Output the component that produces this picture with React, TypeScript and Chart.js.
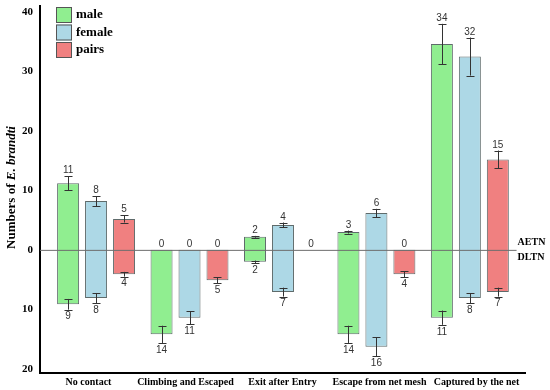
import React, { useEffect, useRef } from "react";
import { Chart, registerables } from "chart.js";
Chart.register(...registerables);

const categories = ["No contact", "Climbing and Escaped", "Exit after Entry", "Escape from net mesh", "Captured by the net"];
const seriesNames = ["male", "female", "pairs"];
const seriesColors = ["#90EE90", "#ADD8E6", "#F08080"];

// bar heights above the line (AETN) and below it (DLTN)
const maleAETN = [11.2, 0, 2.2, 3.0, 34.6];
const femaleAETN = [8.2, 0, 4.2, 6.2, 32.5];
const pairsAETN = [5.2, 0, 0, 0, 15.2];
const maleDLTN = [9.15, 14.2, 2.0, 14.2, 11.4];
const femaleDLTN = [8.1, 11.4, 7.1, 16.3, 8.1];
const pairsDLTN = [4.1, 5.1, 0, 4.1, 7.1];

// error bar half-lengths
const maleAETNErr = [1.2, 0, 0.15, 0.25, 3.4];
const femaleAETNErr = [0.85, 0, 0.4, 0.7, 3.2];
const pairsAETNErr = [0.6, 0, 0, 0, 1.5];
const maleDLTNErr = [0.9, 1.45, 0.2, 1.45, 1.2];
const femaleDLTNErr = [0.85, 1.1, 0.75, 1.6, 0.85];
const pairsDLTNErr = [0.4, 0.5, 0, 0.5, 0.75];

// printed count labels
const maleAETNLabels = [11, 0, 2, 3, 34];
const femaleAETNLabels = [8, 0, 4, 6, 32];
const pairsAETNLabels = [5, 0, 0, 0, 15];
const maleDLTNLabels = [9, 14, 2, 14, 11];
const femaleDLTNLabels = [8, 11, 7, 16, 8];
const pairsDLTNLabels: (number | null)[] = [4, 5, null, 4, 7];

const yTickValues = [-20, -10, 0, 10, 20, 30, 40];
const yMin = -20.7;
const yMax = 41;
const xMin = -0.6;
const xMax = 4.59;

const upVals = [maleAETN, femaleAETN, pairsAETN];
const downVals = [maleDLTN, femaleDLTN, pairsDLTN];
const upErrs = [maleAETNErr, femaleAETNErr, pairsAETNErr];
const downErrs = [maleDLTNErr, femaleDLTNErr, pairsDLTNErr];
const upLabels = [maleAETNLabels, femaleAETNLabels, pairsAETNLabels];
const downLabels: (number | null)[][] = [maleDLTNLabels, femaleDLTNLabels, pairsDLTNLabels];

const SERIF = "'Liberation Serif', 'Times New Roman', serif";
const SANS = "'Liberation Sans', Arial, sans-serif";

const overlayPlugin = {
  id: "overlay",
  afterDatasetsDraw(chart: any) {
    const ctx = chart.ctx;
    const ys = chart.scales.y;
    const xs = chart.scales.x;
    const area = chart.chartArea;
    const zeroY = ys.getPixelForValue(0);
    const lineEnd = xs.getPixelForValue(categories.length - 0.5);
    ctx.save();
    // zero line
    ctx.strokeStyle = "#6e6e6e";
    ctx.lineWidth = 1;
    ctx.beginPath();
    ctx.moveTo(area.left, zeroY + 0.5);
    ctx.lineTo(lineEnd, zeroY + 0.5);
    ctx.stroke();
    // error bars and labels
    ctx.strokeStyle = "#333";
    ctx.fillStyle = "#333";
    ctx.font = `10px ${SANS}`;
    ctx.textAlign = "center";
    const cap = 4;
    const drawErr = (x: number, y1: number, y2: number) => {
      const xx = Math.round(x) + 0.5;
      ctx.beginPath();
      ctx.moveTo(xx, y1);
      ctx.lineTo(xx, y2);
      ctx.moveTo(xx - cap, Math.round(y1) + 0.5);
      ctx.lineTo(xx + cap, Math.round(y1) + 0.5);
      ctx.moveTo(xx - cap, Math.round(y2) + 0.5);
      ctx.lineTo(xx + cap, Math.round(y2) + 0.5);
      ctx.stroke();
    };
    for (let s = 0; s < seriesNames.length; s++) {
      const meta = chart.getDatasetMeta(s);
      meta.data.forEach((el: any, j: number) => {
        const x = el.x;
        const u = upVals[s][j];
        const eu = upErrs[s][j];
        const d = downVals[s][j];
        const ed = downErrs[s][j];
        if (u > 0 && eu > 0) drawErr(x, ys.getPixelForValue(u + eu), ys.getPixelForValue(u - eu));
        if (d > 0 && ed > 0) drawErr(x, ys.getPixelForValue(-d - ed), ys.getPixelForValue(-d + ed));
        const ul = upLabels[s][j];
        if (ul !== null && ul !== undefined) {
          ctx.textBaseline = "alphabetic";
          ctx.fillText(String(ul), x, ys.getPixelForValue(u + eu) - 3);
        }
        const dl = downLabels[s][j];
        if (dl !== null && dl !== undefined) {
          ctx.textBaseline = "top";
          ctx.fillText(String(dl), x, ys.getPixelForValue(-d - ed) + 2);
        }
      });
    }
    // AETN / DLTN
    ctx.fillStyle = "#000";
    ctx.font = `bold 10px ${SERIF}`;
    ctx.textAlign = "left";
    ctx.textBaseline = "middle";
    ctx.fillText("AETN", lineEnd + 1, zeroY - 7);
    ctx.fillText("DLTN", lineEnd + 1, zeroY + 8);
    ctx.restore();
  },
  afterDraw(chart: any) {
    const ctx = chart.ctx;
    const area = chart.chartArea;
    ctx.save();
    // legend
    const lx = area.left + 16;
    const ly = area.top + 1;
    ctx.font = `bold 13px ${SERIF}`;
    ctx.textBaseline = "middle";
    ctx.textAlign = "left";
    seriesNames.forEach((name, i) => {
      const y = ly + i * 17.5;
      ctx.fillStyle = seriesColors[i];
      ctx.fillRect(lx, y, 16, 16);
      ctx.strokeStyle = "#555";
      ctx.lineWidth = 1;
      ctx.strokeRect(lx + 0.5, y + 0.5, 15, 15);
      ctx.fillStyle = "#000";
      ctx.fillText(name, lx + 20, y + 8);
    });
    // y-axis title
    const t1 = "Numbers of ";
    const t2 = "E. brandti";
    const f1 = `bold 13px ${SERIF}`;
    const f2 = `italic bold 13px ${SERIF}`;
    ctx.font = f1;
    const w1 = ctx.measureText(t1).width;
    ctx.font = f2;
    const w2 = ctx.measureText(t2).width;
    const cy = (area.top + area.bottom) / 2 - 2;
    ctx.translate(area.left - 28, cy);
    ctx.rotate(-Math.PI / 2);
    ctx.fillStyle = "#000";
    ctx.textBaseline = "middle";
    ctx.textAlign = "left";
    ctx.font = f1;
    ctx.fillText(t1, -(w1 + w2) / 2, 0);
    ctx.font = f2;
    ctx.fillText(t2, -(w1 + w2) / 2 + w1, 0);
    ctx.restore();
  },
};

export default function App() {
  const ref = useRef<HTMLCanvasElement>(null);
  useEffect(() => {
    if (!ref.current) return;
    const datasets = seriesNames.map((name, s) => ({
      label: name,
      data: categories.map((_, j) => ({ x: j, y: [-downVals[s][j], upVals[s][j]] })),
      backgroundColor: seriesColors[s],
      borderColor: "#5f6b6b",
      borderWidth: 1,
      borderSkipped: false,
      categoryPercentage: 0.898,
      barPercentage: 0.786,
      xAxisID: "x",
      yAxisID: "y",
    }));
    const chart = new Chart(ref.current, {
      type: "bar",
      data: { datasets: datasets as any },
      options: {
        animation: false,
        responsive: true,
        maintainAspectRatio: false,
        layout: { padding: { top: 0, right: 25, bottom: 0, left: 0 } },
        plugins: { legend: { display: false }, tooltip: { enabled: false } },
        scales: {
          x: {
            type: "linear",
            display: false,
            offset: false,
            bounds: "data",
            min: xMin,
            max: xMax,
            grid: { offset: false },
            afterBuildTicks: (s: any) => {
              s.ticks = categories.map((_, i) => ({ value: i }));
            },
          },
          xl: {
            type: "category",
            position: "bottom",
            labels: categories,
            offset: true,
            bounds: "ticks",
            grid: { display: false, drawTicks: false },
            border: { display: true, color: "#000", width: 2 },
            ticks: {
              color: "#000",
              font: { family: SERIF, size: 10, weight: "bold" },
              padding: 3,
              maxRotation: 0,
              autoSkip: false,
            },
            afterFit: (s: any) => {
              s.height = 17;
            },
          },
          y: {
            type: "linear",
            min: yMin,
            max: yMax,
            afterBuildTicks: (s: any) => {
              s.ticks = yTickValues.map((v) => ({ value: v }));
            },
            grid: { display: false, drawTicks: false },
            border: { display: true, color: "#000", width: 2 },
            ticks: {
              color: "#000",
              font: { family: SERIF, size: 11, weight: "bold" },
              padding: 7,
              callback: (v: any) => String(Math.abs(Number(v))),
            },
            afterFit: (s: any) => {
              s.width = 40;
              s.paddingTop = 6;
              s.paddingBottom = 6;
            },
          },
        },
      } as any,
      plugins: [overlayPlugin],
    });
    return () => chart.destroy();
  }, []);
  return (
    <div style={{ position: "fixed", left: 0, top: 0, width: 550, height: 390, background: "#fff" }}>
      <canvas ref={ref} />
    </div>
  );
}
